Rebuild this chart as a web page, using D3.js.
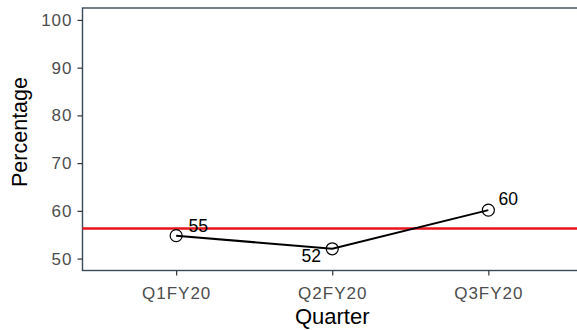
<!DOCTYPE html>
<html><head><meta charset="utf-8">
<script src="https://cdn.jsdelivr.net/npm/d3@7"></script>
<style>
html,body{margin:0;padding:0;background:#fff;overflow:hidden}
svg{display:block;font-family:"Liberation Sans",Arial,sans-serif}
</style></head>
<body><svg id="c" width="577" height="330"></svg>
<script>
const quarters = ["Q1FY20","Q2FY20","Q3FY20"];
const values = [54.8, 52.05, 60.15];
const labels = ["55","52","60"];
const yTicks = [50,60,70,80,90,100];
const refValue = 56.3;

(function(){
const svg = d3.select("#c");
const pL = 82.5, pT = 8, pB = 270.5, pR = 582;

const x = d3.scalePoint().domain(quarters).range([pL, pR]).padding(0.6);
const y = d3.scaleLinear().domain([47.5, 102.5]).range([pB, pT]);

// panel border
svg.append("rect").attr("x", pL).attr("y", pT)
  .attr("width", pR - pL).attr("height", pB - pT)
  .attr("fill", "none").attr("stroke", "#3b4a58").attr("stroke-width", 1.4);

// axes
const yAxis = svg.append("g").attr("transform", `translate(${pL},0)`)
  .call(d3.axisLeft(y).tickValues(yTicks).tickSize(5).tickPadding(5));
const xAxis = svg.append("g").attr("transform", `translate(0,${pB})`)
  .call(d3.axisBottom(x).tickSize(5).tickPadding(11));
[yAxis, xAxis].forEach(g => {
  g.select(".domain").remove();
  g.selectAll(".tick line").attr("stroke", "#333").attr("stroke-width", 1.2);
  g.selectAll(".tick text").attr("fill", "#4d4d4d").style("font-size", "17px")
    .style("letter-spacing", "1px")
    .style("font-family", "'Liberation Sans',Arial,sans-serif");
});

// reference line
svg.append("line").attr("x1", pL).attr("x2", pR)
  .attr("y1", y(refValue)).attr("y2", y(refValue))
  .attr("stroke", "#e8141b").attr("stroke-width", 2.4);

// line
const data = quarters.map((q, i) => ({q, v: values[i], l: labels[i]}));
svg.append("path").datum(data)
  .attr("d", d3.line().x(d => x(d.q)).y(d => y(d.v)))
  .attr("fill", "none").attr("stroke", "#000").attr("stroke-width", 2);

svg.selectAll("circle.pt").data(data).enter().append("circle")
  .attr("class", "pt").attr("cx", d => x(d.q)).attr("cy", d => y(d.v))
  .attr("r", 6).attr("fill", "none").attr("stroke", "#000").attr("stroke-width", 1.2);

const offs = [[22, -10], [-21, 7], [20, -11]];
svg.selectAll("text.lbl").data(data).enter().append("text")
  .attr("class", "lbl")
  .attr("x", (d, i) => x(d.q) + offs[i][0])
  .attr("y", (d, i) => y(d.v) + offs[i][1])
  .attr("dy", "0.36em").attr("text-anchor", "middle")
  .attr("fill", "#000").style("font-size", "17.5px").text(d => d.l);

// axis titles
svg.append("text").attr("x", x("Q2FY20")).attr("y", 324)
  .attr("text-anchor", "middle").attr("fill", "#000").style("font-size", "22px").text("Quarter");
svg.append("text").attr("transform", "translate(27,132) rotate(-90)")
  .attr("text-anchor", "middle").attr("fill", "#000").style("font-size", "21.5px").text("Percentage");
})();
</script></body></html>
